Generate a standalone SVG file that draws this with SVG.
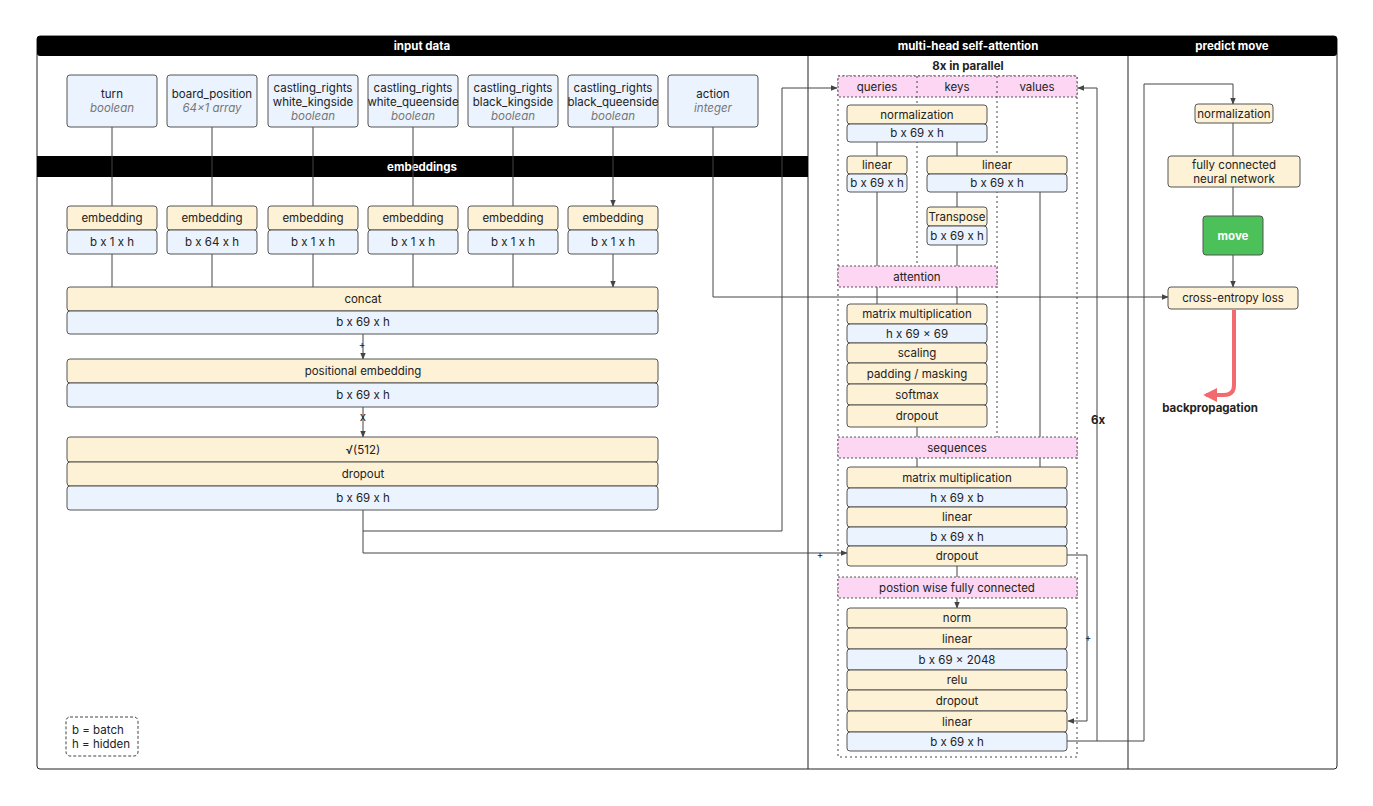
<svg xmlns="http://www.w3.org/2000/svg" width="1373" height="806" viewBox="0 0 1373 806">
<defs>
<style>
text{font-family:Inter,"Noto Sans",sans-serif;font-size:11.5px;fill:#222;text-anchor:middle;dominant-baseline:central}
.y{fill:#fdf1d6;stroke:#555;stroke-width:1}
.b{fill:#ebf3fe;stroke:#555;stroke-width:1}
.p{fill:#fcd6f2;stroke:#555;stroke-width:1;stroke-dasharray:2 2}
.hd{fill:#fff;font-weight:bold}
.i{fill:#777;font-style:italic}
.c{fill:none;stroke:#444;stroke-width:1}
.d{fill:none;stroke:#444;stroke-width:1;stroke-dasharray:2 3}
</style>
<marker id="a" viewBox="0 0 10 10" refX="9" refY="5" markerWidth="7" markerHeight="7" orient="auto"><path d="M0,1L10,5L0,9z" fill="#444"/></marker>
<marker id="r" viewBox="0 0 10 10" refX="8" refY="5" markerWidth="3.5" markerHeight="3.5" orient="auto"><path d="M0,0L10,5L0,10z" fill="#f26a6e"/></marker>
</defs>
<rect width="1373" height="806" fill="#fff"/>
<g id="frame">
<rect x="37" y="36" width="1300" height="733" rx="3" fill="none" stroke="#222"/>
<rect x="37" y="36" width="1300" height="20" rx="3" fill="#000"/>
<line x1="808" y1="56" x2="808" y2="769" stroke="#222"/>
<line x1="1128" y1="56" x2="1128" y2="769" stroke="#222"/>
<text x="422" y="46" class="hd">input data</text>
<text x="968" y="46" class="hd">multi-head self-attention</text>
<text x="1232" y="46" class="hd">predict move</text>
<rect x="37" y="156" width="771" height="21" fill="#000"/>
<text x="422" y="166.5" class="hd">embeddings</text>
<text x="968" y="66" style="font-weight:bold">8x in parallel</text>
</g>
<g id="connectors">
<path class="c" marker-end="url(#a)" d="M112,127V206M212,127V206M313,127V206M413,127V206M513,127V206M613,127V206"/>
<path class="c" marker-end="url(#a)" d="M112,254V287M212,254V287M313,254V287M413,254V287M513,254V287M613,254V287"/>
<path class="c" marker-end="url(#a)" d="M713,127V297H1168"/>
<path class="c" marker-end="url(#a)" d="M363,334V359"/>
<path class="c" marker-end="url(#a)" d="M363,407V437"/>
<path class="c" marker-end="url(#a)" d="M363,510V553H847"/>
<path class="c" marker-end="url(#a)" d="M363,531H782V88H837"/>
<path class="c" marker-end="url(#a)" d="M877,142V156M957,142V156M957,192V207M877,287V304M957,287V304M917,458V467M1040,458V467M957,598V608"/>
<path class="c" d="M877,192V266M957,245V266M1040,192V437M917,427V437M957,566V577"/>
<path class="c" marker-end="url(#a)" d="M1067,555H1087V721H1068"/>
<path class="c" marker-end="url(#a)" d="M1067,741H1097V88H1078"/>
<path class="c" marker-end="url(#a)" d="M1097,741H1144V84H1233V104"/>
<path class="c" marker-end="url(#a)" d="M1233,123V156M1233,187V216M1233,255V287"/>
<path fill="none" stroke="#f26a6e" stroke-width="4" marker-end="url(#r)" d="M1234,310V385Q1234,395 1224,395H1206"/>
<text x="362" y="344" style="font-size:10px">+</text>
<text x="363" y="417">x</text>
<text x="820" y="554" style="font-size:10px">+</text>
<text x="1088" y="637" style="font-size:10px">+</text>
<text x="1098" y="420" style="font-weight:bold">6x</text>
<text x="1210" y="408" style="font-weight:bold">backpropagation</text>
</g>
<g id="inputs">
<rect class="b" x="67" y="75" width="90" height="52" rx="3"/><text x="112" y="94">turn</text><text x="112" y="108" class="i">boolean</text>
<rect class="b" x="167" y="75" width="90" height="52" rx="3"/><text x="212" y="94">board_position</text><text x="212" y="108" class="i">64x1 array</text>
<rect class="b" x="268" y="75" width="90" height="52" rx="3"/><text x="313" y="88">castling_rights</text><text x="313" y="102">white_kingside</text><text x="313" y="116" class="i">boolean</text>
<rect class="b" x="368" y="75" width="90" height="52" rx="3"/><text x="413" y="88">castling_rights</text><text x="413" y="102">white_queenside</text><text x="413" y="116" class="i">boolean</text>
<rect class="b" x="468" y="75" width="90" height="52" rx="3"/><text x="513" y="88">castling_rights</text><text x="513" y="102">black_kingside</text><text x="513" y="116" class="i">boolean</text>
<rect class="b" x="568" y="75" width="90" height="52" rx="3"/><text x="613" y="88">castling_rights</text><text x="613" y="102">black_queenside</text><text x="613" y="116" class="i">boolean</text>
<rect class="b" x="668" y="75" width="90" height="52" rx="3"/><text x="713" y="94">action</text><text x="713" y="108" class="i">integer</text>
</g>
<g id="embeddings">
<rect class="y" x="67" y="206" width="90" height="24" rx="3"/><text x="112" y="218">embedding</text><rect class="b" x="67" y="230" width="90" height="24" rx="3"/><text x="112" y="242">b x 1 x h</text>
<rect class="y" x="167" y="206" width="90" height="24" rx="3"/><text x="212" y="218">embedding</text><rect class="b" x="167" y="230" width="90" height="24" rx="3"/><text x="212" y="242">b x 64 x h</text>
<rect class="y" x="268" y="206" width="90" height="24" rx="3"/><text x="313" y="218">embedding</text><rect class="b" x="268" y="230" width="90" height="24" rx="3"/><text x="313" y="242">b x 1 x h</text>
<rect class="y" x="368" y="206" width="90" height="24" rx="3"/><text x="413" y="218">embedding</text><rect class="b" x="368" y="230" width="90" height="24" rx="3"/><text x="413" y="242">b x 1 x h</text>
<rect class="y" x="468" y="206" width="90" height="24" rx="3"/><text x="513" y="218">embedding</text><rect class="b" x="468" y="230" width="90" height="24" rx="3"/><text x="513" y="242">b x 1 x h</text>
<rect class="y" x="568" y="206" width="90" height="24" rx="3"/><text x="613" y="218">embedding</text><rect class="b" x="568" y="230" width="90" height="24" rx="3"/><text x="613" y="242">b x 1 x h</text>
</g>
<g id="concat">
<rect class="y" x="67" y="287" width="591" height="24" rx="3"/><text x="363" y="299">concat</text>
<rect class="b" x="67" y="311" width="591" height="23" rx="3"/><text x="363" y="322">b x 69 x h</text>
</g>
<g id="positional">
<rect class="y" x="67" y="359" width="591" height="24" rx="3"/><text x="363" y="371">positional embedding</text>
<rect class="b" x="67" y="383" width="591" height="24" rx="3"/><text x="363" y="395">b x 69 x h</text>
</g>
<g id="scale">
<rect class="y" x="67" y="437" width="591" height="25" rx="3"/><text x="363" y="449.5">√(512)</text>
<rect class="y" x="67" y="462" width="591" height="24" rx="3"/><text x="363" y="474">dropout</text>
<rect class="b" x="67" y="486" width="591" height="24" rx="3"/><text x="363" y="498">b x 69 x h</text>
</g>
<g id="legend">
<rect x="66" y="717" width="72" height="39" rx="4" fill="none" stroke="#444" stroke-dasharray="3 2"/>
<text x="72" y="730" style="text-anchor:start">b = batch</text><text x="72" y="744" style="text-anchor:start">h = hidden</text>
</g>
<g id="attention-block">
<rect x="838" y="76" width="239" height="681" fill="none" stroke="#444" stroke-dasharray="2 3"/>
<rect class="p" x="838" y="76" width="239" height="21"/>
<path class="d" d="M917,76V266M997,76V437"/>
<text x="877" y="86.5">queries</text><text x="957" y="86.5">keys</text><text x="1037" y="86.5">values</text>
<rect class="y" x="847" y="105" width="140" height="19" rx="3"/><text x="917" y="114.5">normalization</text>
<rect class="b" x="847" y="124" width="140" height="18" rx="3"/><text x="917" y="133">b x 69 x h</text>
<rect class="y" x="847" y="156" width="60" height="18" rx="3"/><text x="877" y="165">linear</text>
<rect class="b" x="847" y="174" width="60" height="18" rx="3"/><text x="877" y="183">b x 69 x h</text>
<rect class="y" x="927" y="156" width="140" height="18" rx="3"/><text x="997" y="165">linear</text>
<rect class="b" x="927" y="174" width="140" height="18" rx="3"/><text x="997" y="183">b x 69 x h</text>
<rect class="y" x="927" y="207" width="60" height="19" rx="3"/><text x="957" y="216.5">Transpose</text>
<rect class="b" x="927" y="226" width="60" height="19" rx="3"/><text x="957" y="235.5">b x 69 x h</text>
<rect class="p" x="838" y="266" width="159" height="21"/><text x="917" y="276.5">attention</text>
<rect class="y" x="847" y="304" width="140" height="20" rx="3"/><text x="917" y="314">matrix multiplication</text>
<rect class="b" x="847" y="324" width="140" height="19" rx="3"/><text x="917" y="333.5">h x 69 x 69</text>
<rect class="y" x="847" y="343" width="140" height="20" rx="3"/><text x="917" y="353">scaling</text>
<rect class="y" x="847" y="363" width="140" height="21" rx="3"/><text x="917" y="373.5">padding / masking</text>
<rect class="y" x="847" y="384" width="140" height="21" rx="3"/><text x="917" y="394.5">softmax</text>
<rect class="y" x="847" y="405" width="140" height="22" rx="3"/><text x="917" y="416">dropout</text>
<rect class="p" x="838" y="437" width="239" height="21"/><text x="957" y="447.5">sequences</text>
<rect class="y" x="847" y="467" width="220" height="21" rx="3"/><text x="957" y="477.5">matrix multiplication</text>
<rect class="b" x="847" y="488" width="220" height="19" rx="3"/><text x="957" y="497.5">h x 69 x b</text>
<rect class="y" x="847" y="507" width="220" height="20" rx="3"/><text x="957" y="517">linear</text>
<rect class="b" x="847" y="527" width="220" height="19" rx="3"/><text x="957" y="536.5">b x 69 x h</text>
<rect class="y" x="847" y="546" width="220" height="20" rx="3"/><text x="957" y="556">dropout</text>
<rect class="p" x="838" y="577" width="239" height="21"/><text x="957" y="587.5">postion wise fully connected</text>
<rect class="y" x="847" y="608" width="220" height="20" rx="3"/><text x="957" y="618">norm</text>
<rect class="y" x="847" y="628" width="220" height="21" rx="3"/><text x="957" y="638.5">linear</text>
<rect class="b" x="847" y="649" width="220" height="21" rx="3"/><text x="957" y="659.5">b x 69 x 2048</text>
<rect class="y" x="847" y="670" width="220" height="20" rx="3"/><text x="957" y="680">relu</text>
<rect class="y" x="847" y="690" width="220" height="21" rx="3"/><text x="957" y="700.5">dropout</text>
<rect class="y" x="847" y="711" width="220" height="21" rx="3"/><text x="957" y="721.5">linear</text>
<rect class="b" x="847" y="732" width="220" height="19" rx="3"/><text x="957" y="741.5">b x 69 x h</text>
</g>
<g id="predict">
<rect class="y" x="1195" y="104" width="78" height="19" rx="3"/><text x="1234" y="113.5">normalization</text>
<rect class="y" x="1168" y="156" width="132" height="31" rx="3"/><text x="1234" y="165">fully connected</text><text x="1234" y="179">neural network</text>
<rect x="1203" y="216" width="60" height="39" rx="3" fill="#4cc15a" stroke="#555"/><text x="1233" y="235.5" style="fill:#fff;font-weight:bold">move</text>
<rect class="y" x="1168" y="287" width="130" height="22" rx="3"/><text x="1233" y="298">cross-entropy loss</text>
</g>
</svg>
